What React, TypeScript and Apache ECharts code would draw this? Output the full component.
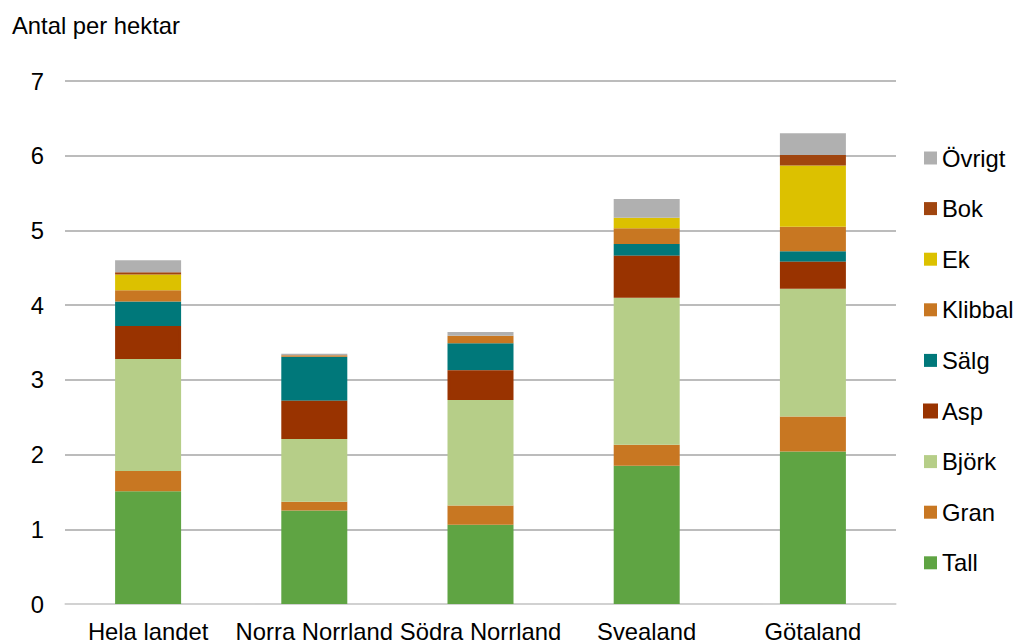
import React, { useEffect, useRef } from "react";
import * as echarts from "echarts";

const categories = ["Hela landet", "Norra Norrland", "Södra Norrland", "Svealand", "Götaland"];
const yTicks = [0, 1, 2, 3, 4, 5, 6, 7];

const tall = [1.51, 1.25, 1.06, 1.85, 2.04];
const gran = [0.27, 0.12, 0.26, 0.28, 0.47];
const bjork = [1.5, 0.84, 1.41, 1.97, 1.71];
const asp = [0.44, 0.51, 0.4, 0.56, 0.36];
const salg = [0.33, 0.59, 0.36, 0.16, 0.14];
const klibbal = [0.15, 0.02, 0.1, 0.21, 0.33];
const ek = [0.21, 0.0, 0.0, 0.14, 0.82];
const bok = [0.03, 0.0, 0.0, 0.0, 0.14];
const ovrigt = [0.16, 0.02, 0.05, 0.25, 0.29];

const seriesDefs = [
  { name: "Tall", data: tall, color: "#5fa443" },
  { name: "Gran", data: gran, color: "#c87722" },
  { name: "Björk", data: bjork, color: "#b6ce88" },
  { name: "Asp", data: asp, color: "#993300" },
  { name: "Sälg", data: salg, color: "#00787a" },
  { name: "Klibbal", data: klibbal, color: "#c87722" },
  { name: "Ek", data: ek, color: "#dcc100" },
  { name: "Bok", data: bok, color: "#a0450f" },
  { name: "Övrigt", data: ovrigt, color: "#b0b0b0" },
];

const FONT = "'Liberation Sans', Arial, sans-serif";
const FS = 23.8;

export default function App() {
  const ref = useRef<HTMLDivElement>(null);
  useEffect(() => {
    if (!ref.current) return;
    const chart = echarts.init(ref.current, null, { renderer: "svg" });
    chart.setOption({
      animation: false,
      backgroundColor: "#ffffff",
      textStyle: { fontFamily: FONT },
      title: {
        text: "Antal per hektar",
        left: 12,
        top: 13,
        padding: 0,
        textStyle: { fontSize: FS, fontWeight: "normal", color: "#000", fontFamily: FONT },
      },
      legend: {
        orient: "vertical",
        left: 918,
        top: 141,
        itemWidth: 13,
        itemHeight: 13,
        itemGap: 26.6,
        icon: "rect",
        data: seriesDefs.map((s) => s.name).reverse(),
        textStyle: { fontSize: FS, color: "#000", fontFamily: FONT },
      },
      grid: {
        left: 65,
        right: 119,
        top: 81,
        bottom: 37,
        outerBoundsMode: "none",
      },
      xAxis: {
        type: "category",
        data: categories,
        axisLine: { show: true, lineStyle: { color: "#d9d9d9", width: 1.5 } },
        axisTick: { show: false },
        axisLabel: { fontSize: FS, color: "#000", margin: 15, fontFamily: FONT, interval: 0 },
      },
      yAxis: {
        type: "value",
        min: yTicks[0],
        max: yTicks[yTicks.length - 1],
        interval: 1,
        axisLine: { show: false },
        axisTick: { show: false },
        axisLabel: { fontSize: FS, color: "#000", margin: 21, fontFamily: FONT },
        splitLine: { lineStyle: { color: "#a6a6a6", width: 1.5 } },
      },
      series: seriesDefs.map((s) => ({
        name: s.name,
        type: "bar",
        stack: "total",
        barWidth: 66,
        data: s.data,
        z: s.name === "Asp" ? 3 : 2,
        itemStyle:
          s.name === "Asp"
            ? { color: s.color, borderColor: s.color, borderWidth: 3 }
            : { color: s.color },
      })),
    });
    return () => chart.dispose();
  }, []);
  return (
    <div
      ref={ref}
      style={{ position: "fixed", left: 0, top: 0, width: 1015, height: 641 }}
    />
  );
}
